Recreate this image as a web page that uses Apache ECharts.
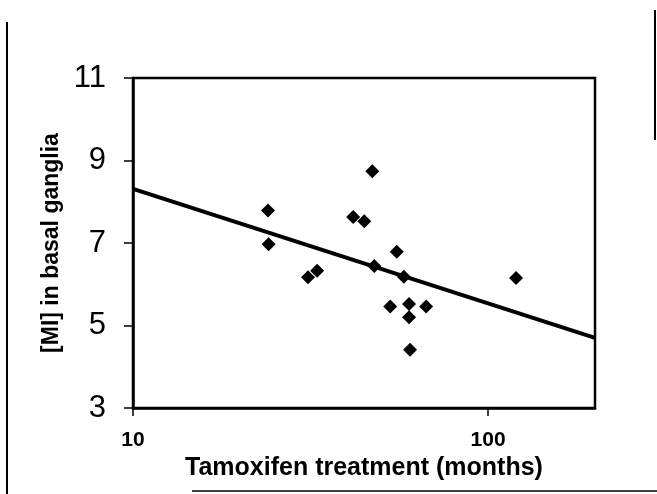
<!DOCTYPE html>
<html>
<head>
<meta charset="utf-8">
<script src="https://cdn.jsdelivr.net/npm/echarts@6/dist/echarts.min.js"></script>
<style>html,body{margin:0;padding:0;background:#fff;}#c{width:657px;height:494px;}</style>
</head>
<body>
<div id="c"></div>
<script>
// Data
var months = [24.0, 24.1, 31.1, 33.0, 41.7, 44.8, 47.2, 47.8, 53.0, 55.3, 57.9, 59.9, 59.9, 60.3, 66.9, 119.9];
var mi     = [7.79, 6.97, 6.17, 6.33, 7.63, 7.53, 8.74, 6.44, 5.46, 6.79, 6.18, 5.52, 5.20, 4.41, 5.46, 6.15];
var fitX = [10, 200];
var fitY = [8.31, 4.70];
var yTicks = [3, 5, 7, 9, 11];
var xTickLabels = [10, 100];

var scatterData = months.map(function (m, i) { return [m, mi[i]]; });
var lineData = fitX.map(function (x, i) { return [x, fitY[i]]; });

var chart = echarts.init(document.getElementById('c'), null, {renderer: 'canvas'});
chart.setOption({
  backgroundColor: '#ffffff',
  animation: false,
  grid: {
    left: 133, right: 62, top: 78, bottom: 86,
    show: true, borderColor: '#000', borderWidth: 2.5, backgroundColor: 'transparent'
  },
  xAxis: {
    type: 'log', logBase: 10, min: 10, max: 200,
    name: 'Tamoxifen treatment (months)',
    nameLocation: 'middle', nameGap: 48,
    nameTextStyle: {fontFamily: 'Liberation Sans', fontWeight: 'bold', fontSize: 25, color: '#000'},
    axisLine: {show: true, onZero: false, lineStyle: {color: '#000', width: 2.5}},
    axisTick: {show: true, inside: false, length: 8, lineStyle: {color: '#000', width: 1.5}},
    minorTick: {show: false},
    splitLine: {show: false},
    axisLabel: {
      margin: 22, fontFamily: 'Liberation Sans', fontWeight: 'bold', fontSize: 21, color: '#000',
      showMaxLabel: false,
      formatter: function (v) { return xTickLabels.indexOf(Math.round(v)) >= 0 ? String(Math.round(v)) : ''; }
    }
  },
  yAxis: {
    type: 'value', min: yTicks[0], max: yTicks[yTicks.length - 1], interval: 2,
    name: '[MI] in basal ganglia',
    nameLocation: 'middle', nameGap: 70, nameRotate: 90,
    nameTextStyle: {fontFamily: 'Liberation Sans', fontWeight: 'bold', fontSize: 23, color: '#000'},
    axisLine: {show: true, lineStyle: {color: '#000', width: 2.5}},
    axisTick: {show: true, inside: false, length: 9, lineStyle: {color: '#000', width: 1.5}},
    splitLine: {show: false},
    axisLabel: {margin: 27, fontFamily: 'Liberation Sans', fontSize: 31, color: '#000'}
  },
  series: [
    {
      type: 'line', data: lineData, showSymbol: false, symbol: 'none',
      lineStyle: {color: '#000', width: 4}, z: 2
    },
    {
      type: 'scatter', data: scatterData, symbol: 'diamond', symbolSize: 14,
      itemStyle: {color: '#000', opacity: 1}, z: 3
    }
  ],
  graphic: [
    {type: 'line', shape: {x1: 7, y1: 22, x2: 7, y2: 494}, style: {stroke: '#000', lineWidth: 2}},
    {type: 'line', shape: {x1: 655, y1: 10, x2: 655, y2: 140}, style: {stroke: '#000', lineWidth: 2}},
    {type: 'line', shape: {x1: 192, y1: 491, x2: 657, y2: 491}, style: {stroke: '#000', lineWidth: 1.5}}
  ]
});
</script>
</body>
</html>
